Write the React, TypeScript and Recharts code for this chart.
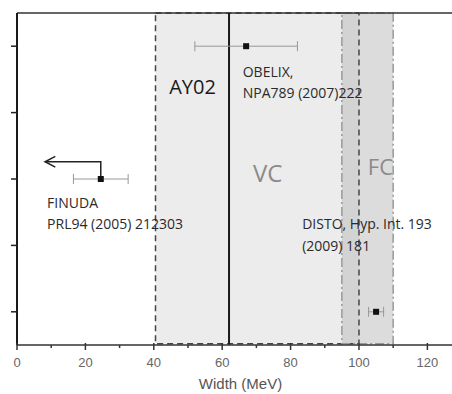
import React from 'react';
import {
  ComposedChart, XAxis, YAxis, Scatter, ErrorBar, Line, ReferenceArea,
  ReferenceLine, ReferenceDot, Label,
} from 'recharts';

// ---- data ----
const xTicks = [0, 10, 20, 30, 40, 50, 60, 70, 80, 90, 100, 110, 120];
const yTicks = [1, 2, 3, 4, 5];
const measurements = [
  { name: 'OBELIX', x: 67, y: 5, err: 15 },
  { name: 'FINUDA', x: 24.5, y: 3, err: 8 },
  { name: 'DISTO', x: 105, y: 1, err: 2.2 },
];
const finudaArrow = [
  { x: 24.5, y: 3 },
  { x: 24.5, y: 3.26 },
  { x: 8.2, y: 3.26 },
];
const arrowHead = [
  { x: 11.2, y: 3.34 },
  { x: 8.2, y: 3.26 },
  { x: 11.2, y: 3.18 },
];
const ay02Width = 62;
const vcRange = [40.5, 95];
const fcDark = [95, 100];
const fcLight = [100, 110];
const ay02Box = [40.5, 100];
const fcBox = [95, 110];

const labels = [
  { x: 44.5, y: 4.28, lines: ['AY02'], size: 20, color: '#1a1a1a', lh: 22 },
  { x: 66, y: 4.53, lines: ['OBELIX,', 'NPA789 (2007)222'], size: 14, color: '#2a2a2a', lh: 21 },
  { x: 69, y: 2.96, lines: ['VC'], size: 24, color: '#8a8a8a', lh: 24 },
  { x: 102.6, y: 3.06, lines: ['FC'], size: 22, color: '#8a8a8a', lh: 22 },
  { x: 8.8, y: 2.56, lines: ['FINUDA', 'PRL94 (2005) 212303'], size: 14, color: '#2a2a2a', lh: 21 },
  { x: 83.4, y: 2.25, lines: ['DISTO, Hyp. Int. 193', '(2009) 181'], size: 14, color: '#2a2a2a', lh: 22 },
];

const FONT = '"Open Sans", sans-serif';

const XTick = (props: any) => {
  const { x, y, payload } = props;
  const v = payload.value;
  const major = v % 20 === 0;
  return (
    <g>
      <line x1={x} x2={x} y1={y - (major ? 2 : 0)} y2={y + (major ? 5 : 3)} stroke="#333" strokeWidth={1.5} />
      {major && (
        <text x={x} y={y + 22} textAnchor="middle" fontSize={13} fill="#666" fontFamily="'Liberation Sans', Arial, sans-serif">
          {v}
        </text>
      )}
    </g>
  );
};

const YTick = (props: any) => {
  const { x, y } = props;
  return <line x1={x - 6} x2={x + 1} y1={y} y2={y} stroke="#222" strokeWidth={1.5} />;
};

const Square = (size: number, color: string) => (props: any) => {
  const { cx, cy } = props;
  return <rect x={cx - size / 2} y={cy - size / 2} width={size} height={size} fill={color} />;
};

const multiLabel = (lines: string[], size: number, color: string, lh: number) => (props: any) => {
  const vb = props.viewBox || {};
  const x = vb.x + (vb.width || 0) / 2;
  const y = vb.y + (vb.height || 0) / 2;
  return (
    <text x={x} y={y} fontSize={size} fill={color} fontFamily={FONT}>
      {lines.map((l, i) => (
        <tspan key={i} x={x} y={y + i * lh}>{l}</tspan>
      ))}
    </text>
  );
};

export default function App() {
  return (
    <div style={{ position: 'absolute', left: 0, top: 0, background: '#fff' }}>
      <ComposedChart width={452} height={394} margin={{ top: 13, right: 0, left: 7, bottom: 0 }}>
        <XAxis
          type="number"
          dataKey="x"
          domain={[0, 127.2]}
          ticks={xTicks}
          interval={0}
          allowDataOverflow
          height={49}
          tickSize={0}
          tickMargin={0}
          tickLine={false}
          tick={<XTick />}
          axisLine={{ stroke: '#333', strokeWidth: 1.5 }}
        >
          <Label
            content={(p: any) => {
              const vb = p.viewBox;
              return (
                <text x={vb.x + vb.width / 2 + 6} y={vb.y + 44} textAnchor="middle" fontSize={15} fill="#555" fontFamily="'Liberation Sans', Arial, sans-serif">
                  Width (MeV)
                </text>
              );
            }}
          />
        </XAxis>
        <YAxis
          type="number"
          dataKey="y"
          domain={[0.5, 5.5]}
          ticks={yTicks}
          interval={0}
          allowDataOverflow
          width={10}
          tickSize={0}
          tickMargin={0}
          tickLine={false}
          tick={<YTick />}
          axisLine={{ stroke: '#1a1a1a', strokeWidth: 2 }}
        >
          <Label
            content={(p: any) => {
              const vb = p.viewBox || {};
              const lx = (vb.x || 0) + (vb.width || 0);
              return <line x1={lx} x2={lx} y1={vb.y} y2={(vb.y || 0) + (vb.height || 0)} stroke="#1a1a1a" strokeWidth={1.5} />;
            }}
          />
        </YAxis>
        <ReferenceLine y={5.5} stroke="#333" strokeWidth={1.5} ifOverflow="visible" />
        <ReferenceArea x1={vcRange[0]} x2={vcRange[1]} y1={0.52} y2={5.5} fill="#ececec" fillOpacity={1} stroke="none" ifOverflow="visible" />
        <ReferenceArea x1={fcDark[0]} x2={fcDark[1]} y1={0.52} y2={5.5} fill="#d3d3d3" fillOpacity={1} stroke="none" ifOverflow="visible" />
        <ReferenceArea x1={fcLight[0]} x2={fcLight[1]} y1={0.52} y2={5.5} fill="#dcdcdc" fillOpacity={1} stroke="none" ifOverflow="visible" />
        <ReferenceArea x1={ay02Box[0]} x2={ay02Box[1]} y1={0.52} y2={5.5} fill="none" stroke="#444" strokeWidth={1.5} strokeDasharray="6 4" ifOverflow="visible" />
        <ReferenceArea x1={fcBox[0]} x2={fcBox[1]} y1={0.52} y2={5.5} fill="none" stroke="#999" strokeWidth={1.5} strokeDasharray="9 3 2 3" ifOverflow="visible" />
        <ReferenceLine x={ay02Width} stroke="#1a1a1a" strokeWidth={2} ifOverflow="visible" />
        <Line data={finudaArrow} dataKey="y" stroke="#222" strokeWidth={1.5} dot={false} isAnimationActive={false} type="linear" />
        <Line data={arrowHead} dataKey="y" stroke="#222" strokeWidth={1.5} dot={false} isAnimationActive={false} type="linear" />
        <Scatter data={measurements} dataKey="y" isAnimationActive={false} shape={Square(6, '#111')}>
          <ErrorBar dataKey="err" direction="x" width={5} stroke="#999" strokeWidth={1} isAnimationActive={false} />
        </Scatter>
        {labels.map((l, i) => (
          <ReferenceDot key={i} x={l.x} y={l.y} r={0} fill="none" stroke="none" ifOverflow="visible"
            label={multiLabel(l.lines, l.size, l.color, l.lh)} />
        ))}
      </ComposedChart>
    </div>
  );
}
